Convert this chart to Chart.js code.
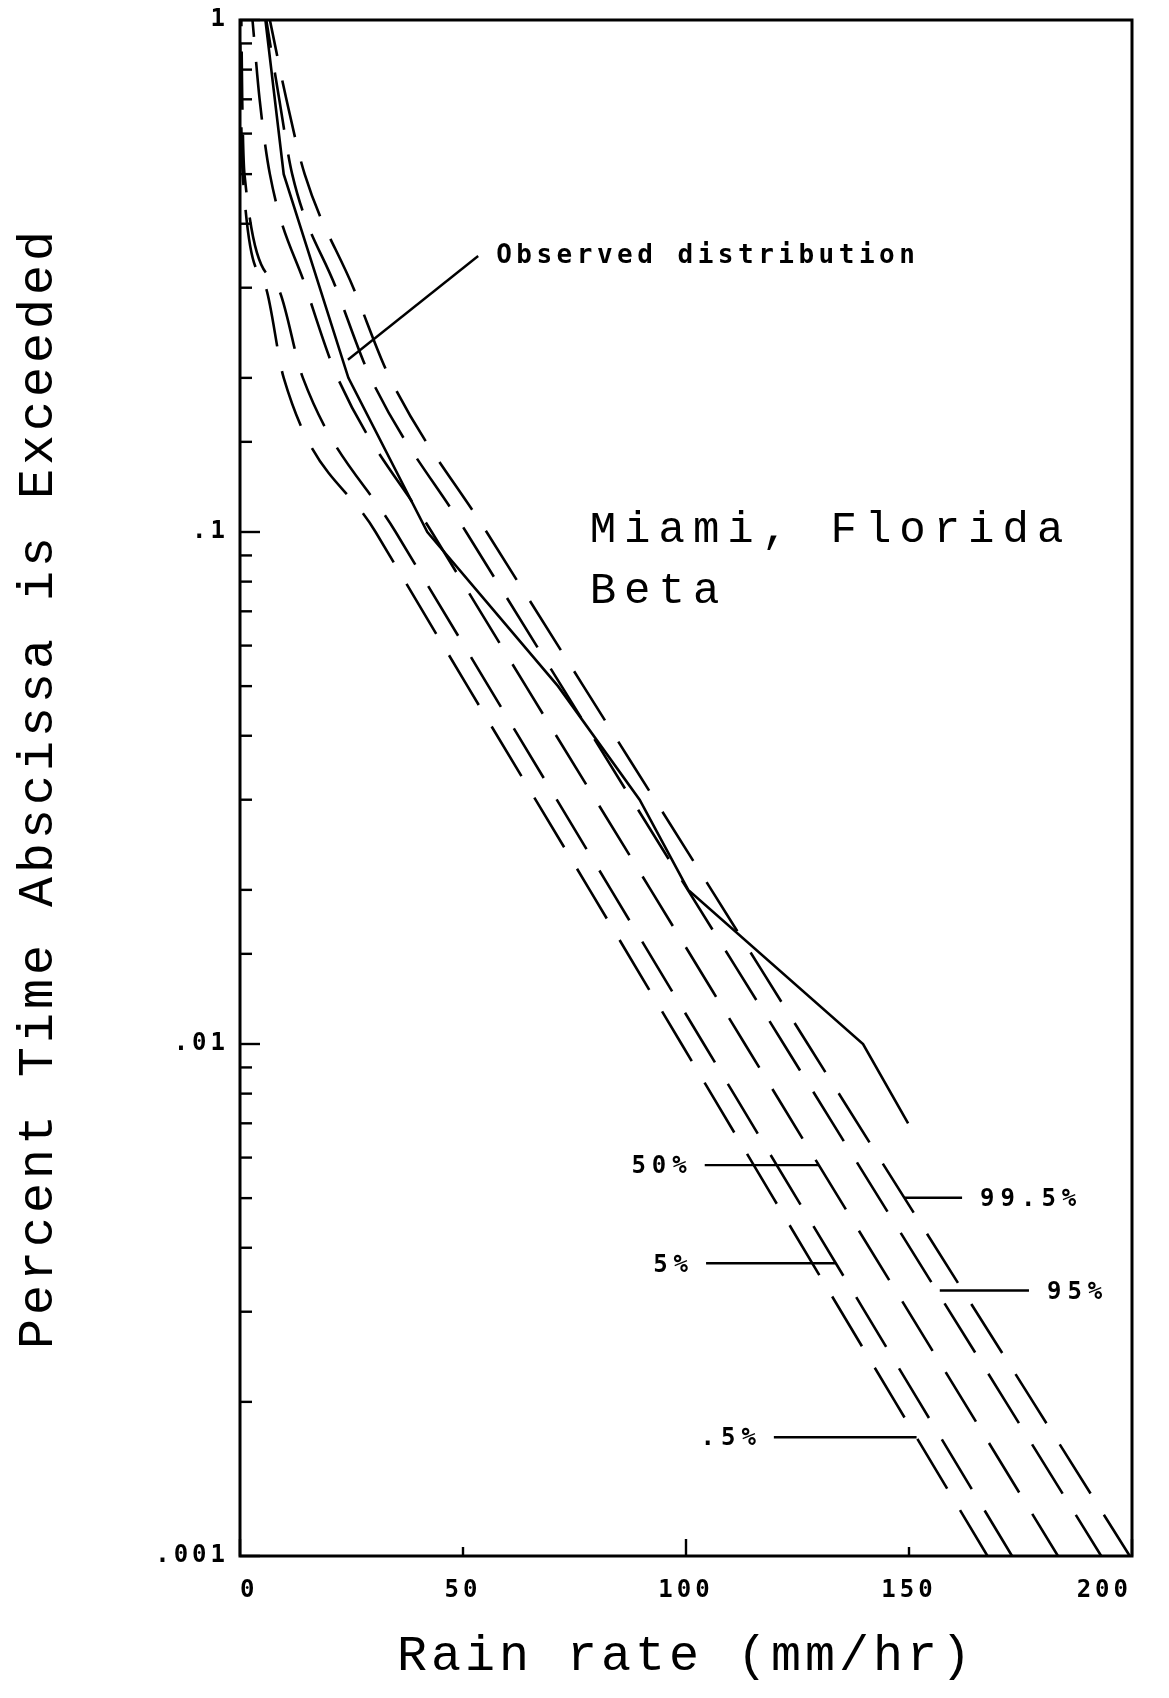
<!DOCTYPE html>
<html>
<head>
<meta charset="utf-8">
<title>Miami, Florida - Beta</title>
<script src="https://cdn.jsdelivr.net/npm/chart.js@4.4.1/dist/chart.umd.min.js"></script>
<style>
html,body{margin:0;padding:0;background:#fff;}
canvas{display:block;}
</style>
</head>
<body>
<canvas id="ch" width="1169" height="1698"></canvas>
<script>
// percent of time the rain rate is exceeded (y), rain rate mm/hr (x)
const probLevels=[1,0.7,0.5,0.3,0.2,0.1,0.05,0.02,0.01,0.005,0.002,0.001];
const rateP005=[0.0,0.2,0.6,5.8,9.8,30.4,51.0,78.4,99.0,119.6,146.9,167.6];
const rateP5=[0.3,0.5,1.0,8.5,14.1,34.9,55.7,83.2,104.0,124.8,152.3,173.1];
const rateP50=[2.8,4.4,6.7,14.8,21.9,43.0,64.1,92.1,113.2,134.3,162.3,183.4];
const rateP95=[5.9,8.8,11.7,21.5,29.3,50.7,72.1,100.4,121.9,143.3,171.7,193.1];
const rateP995=[6.7,10.4,14.5,25.4,33.6,55.3,77.0,105.7,127.3,149.0,177.8,199.5];
const pctNames=['.5%','5%','50%','95%','99.5%'];

const obsProb=[1,0.5,0.2,0.1,0.05,0.03,0.02,0.01,0.007];
const obsRate=[5.7,9.8,24.3,42.0,71.3,89.6,100.5,139.7,149.8];

const xTicks=[0,50,100,150,200];
const xTickText=['0','50','100','150','200'];
const yTicks=[1,0.1,0.01,0.001];
const yTickText=['1','.1','.01','.001'];
const xTitle='Rain rate (mm/hr)';
const yTitle='Percent Time Abscissa is Exceeded';
const siteText=['Miami, Florida','Beta'];
const siteRate=[78.4,78.4];
const siteProb=[0.0958,0.0727];

// leader lines for the percentile labels
const leadNames=['50%','5%','.5%','99.5%','95%'];
const leadFrom=[104.2,104.5,119.7,149.0,156.9];
const leadTo=[129.8,133.4,151.7,161.9,176.9];
const leadProb=[0.0058,0.00373,0.001706,0.00501,0.0033];
const leadSide=['left','left','left','right','right'];
const obsText='Observed distribution';
const obsLeadRate=[24.2,53.4];
const obsLeadProb=[0.217,0.346];

// where a dash of each curve begins (keeps the dash rows lined up)
const dashAnchor=[0.01576,0.01564,0.01541,0.01518,0.01507];
const DASH=[58,25];

const curves=[rateP005,rateP5,rateP50,rateP95,rateP995];

function dashOff(chart,i){
  const xs=chart.scales.x,ys=chart.scales.y;
  if(!xs||!ys)return 0;
  const r=curves[i];
  const yA=ys.getPixelForValue(dashAnchor[i]);
  let s=0;
  for(let k=1;k<probLevels.length;k++){
    const x0=xs.getPixelForValue(r[k-1]),y0=ys.getPixelForValue(probLevels[k-1]);
    const x1=xs.getPixelForValue(r[k]),y1=ys.getPixelForValue(probLevels[k]);
    const d=Math.hypot(x1-x0,y1-y0);
    if(y1>=yA){s+=d*(yA-y0)/(y1-y0);break;}
    s+=d;
  }
  const per=DASH[0]+DASH[1];
  return (per-(s%per))%per;
}

const datasets=[];
curves.forEach((r,i)=>{
  datasets.push({label:pctNames[i],data:probLevels.map((p,k)=>({x:r[k],y:p})),
    borderColor:'#000',borderWidth:2.6,borderDash:DASH,
    borderDashOffset:ctx=>dashOff(ctx.chart,i),
    pointRadius:0,cubicInterpolationMode:'monotone',fill:false});
});
datasets.push({label:'Observed',data:obsProb.map((p,k)=>({x:obsRate[k],y:p})),
  borderColor:'#000',borderWidth:2.6,pointRadius:0,tension:0,fill:false});
datasets.push({label:'obs leader',data:obsLeadProb.map((p,k)=>({x:obsLeadRate[k],y:p})),
  borderColor:'#000',borderWidth:2.4,pointRadius:0,tension:0,fill:false});
leadNames.forEach((n,i)=>{
  datasets.push({label:n+' leader',data:[{x:leadFrom[i],y:leadProb[i]},{x:leadTo[i],y:leadProb[i]}],
    borderColor:'#000',borderWidth:2.4,pointRadius:0,tension:0,fill:false});
});

const isDecade=v=>Math.abs(Math.log10(v)-Math.round(Math.log10(v)))<1e-9;

const notes={
  id:'notes',
  beforeDraw(c){c.ctx.letterSpacing='4px';},
  afterDraw(c){
    const {ctx,chartArea:a,scales:{x,y}}=c;
    ctx.save();
    ctx.strokeStyle='#000';
    ctx.lineWidth=3;
    ctx.strokeRect(a.left,a.top,a.right-a.left,a.bottom-a.top);
    ctx.lineWidth=2.4;
    y.ticks.forEach(t=>{
      const py=y.getPixelForValue(t.value),L=isDecade(t.value)?20:12;
      ctx.beginPath();ctx.moveTo(a.left,py);ctx.lineTo(a.left+L,py);ctx.stroke();
    });
    x.ticks.forEach(t=>{
      const px=x.getPixelForValue(t.value),L=t.value%100===0?17:9;
      ctx.beginPath();ctx.moveTo(px,a.bottom);ctx.lineTo(px,a.bottom-L);ctx.stroke();
    });
    ctx.fillStyle='#000';
    // site / model text
    ctx.letterSpacing='8px';
    ctx.font='44px "Liberation Mono"';
    ctx.textAlign='left';ctx.textBaseline='alphabetic';
    siteText.forEach((s,i)=>ctx.fillText(s,x.getPixelForValue(siteRate[i]),y.getPixelForValue(siteProb[i])));
    // observed label
    ctx.letterSpacing='4.5px';
    ctx.font='bold 26px "DejaVu Sans Mono"';
    ctx.textBaseline='middle';
    ctx.fillText(obsText,x.getPixelForValue(obsLeadRate[1])+18,y.getPixelForValue(obsLeadProb[1]));
    // percentile labels
    ctx.letterSpacing='6px';
    ctx.font='bold 24px "DejaVu Sans Mono"';
    leadNames.forEach((n,i)=>{
      const py=y.getPixelForValue(leadProb[i]);
      if(leadSide[i]==='left'){ctx.textAlign='right';ctx.fillText(n,x.getPixelForValue(leadFrom[i])-12,py+2);}
      else{ctx.textAlign='left';ctx.fillText(n,x.getPixelForValue(leadTo[i])+18,py+2);}
    });
    ctx.restore();
  }
};

new Chart(document.getElementById('ch'),{
  type:'line',
  data:{datasets},
  options:{
    responsive:false,animation:false,devicePixelRatio:1,
    layout:{padding:{left:0,right:37,top:20,bottom:0}},
    plugins:{legend:{display:false},tooltip:{enabled:false}},
    scales:{
      x:{type:'linear',min:0,max:200,
        grid:{display:false,drawTicks:false},border:{display:false},
        ticks:{stepSize:50,autoSkip:false,maxRotation:0,align:'inner',padding:20,color:'#000',
          font:{family:'DejaVu Sans Mono',weight:'bold',size:24},
          callback:v=>{const i=xTicks.indexOf(v);return i>=0?xTickText[i]:'';}},
        title:{display:true,text:xTitle,color:'#000',font:{family:'Liberation Mono',size:50},padding:{top:0,bottom:11}},
        afterFit:s=>{s.height=142;s.paddingLeft=0;s.paddingRight=0;}
      },
      y:{type:'logarithmic',min:0.001,max:1,
        grid:{display:false,drawTicks:false},border:{display:false},
        ticks:{autoSkip:false,padding:11,color:'#000',
          font:{family:'DejaVu Sans Mono',weight:'bold',size:24},
          callback:v=>{const i=yTicks.findIndex(t=>Math.abs(Math.log10(t)-Math.log10(v))<1e-6);return i>=0?yTickText[i]:'';}},
        title:{display:true,text:yTitle,color:'#000',font:{family:'Liberation Mono',size:50},padding:{top:9,bottom:0}},
        afterFit:s=>{s.width=240;s.paddingTop=0;s.paddingBottom=0;}
      }
    }
  },
  plugins:[notes]
});
</script>
</body>
</html>
